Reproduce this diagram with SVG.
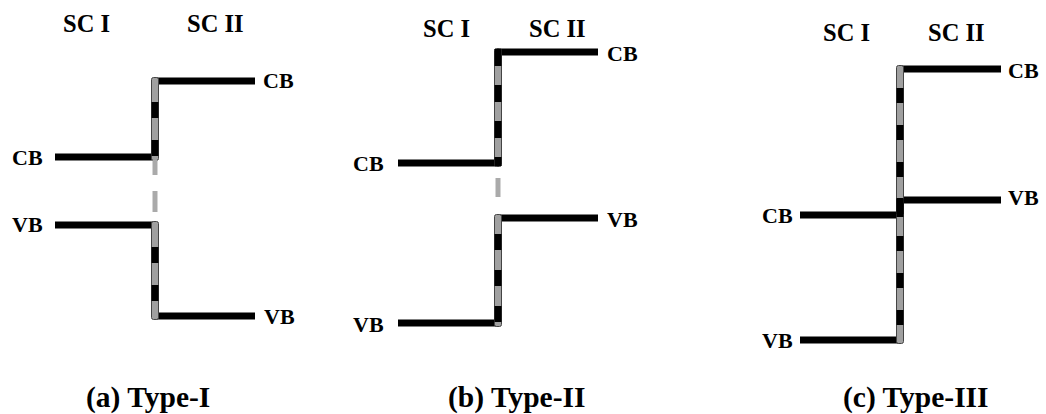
<svg xmlns="http://www.w3.org/2000/svg" width="1046" height="414" viewBox="0 0 1046 414">
<style>
text{font-family:"Liberation Serif","Times New Roman",serif;font-weight:bold;fill:#000}
.hd{font-size:24.5px}
.lb{font-size:22px}
.cap{font-size:29.5px}
.band{stroke:#000;stroke-width:7;fill:none;stroke-linecap:butt}
.vg{fill:#a0a0a0;stroke:#444;stroke-width:1}
.vd{stroke:#000;stroke-width:7;fill:none}
.gap{stroke:#aaa;stroke-width:5;fill:none}
</style>
<rect width="1046" height="414" fill="#fff"/>
<g id="panel-a">
<text class="hd" x="63" y="32">SC I</text>
<text class="hd" x="187" y="32">SC II</text>
<text class="lb" x="263" y="88">CB</text>
<text class="lb" x="12" y="165">CB</text>
<text class="lb" x="12" y="232">VB</text>
<text class="lb" x="264" y="324">VB</text>
<text class="cap" x="86" y="407">(a) Type-I</text>
</g>
<g id="panel-b">
<text class="hd" x="423" y="37">SC I</text>
<text class="hd" x="529" y="37">SC II</text>
<text class="lb" x="607" y="61">CB</text>
<text class="lb" x="353" y="171">CB</text>
<text class="lb" x="607" y="227">VB</text>
<text class="lb" x="353" y="332">VB</text>
<text class="cap" x="448" y="407">(b) Type-II</text>
</g>
<g id="panel-c">
<text class="hd" x="823" y="41">SC I</text>
<text class="hd" x="928" y="41">SC II</text>
<text class="lb" x="1008" y="78">CB</text>
<text class="lb" x="1008" y="205">VB</text>
<text class="lb" x="762" y="223">CB</text>
<text class="lb" x="762" y="348">VB</text>
<text class="cap" x="843" y="407">(c) Type-III</text>
</g>
<g id="connectors">
<!-- panel a -->
<path class="band" d="M155,81 H255"/>
<path class="band" d="M55,157 H155"/>
<path class="band" d="M55,225 H155"/>
<path class="band" d="M155,316 H255"/>
<rect class="vg" x="151.5" y="77.5" width="7" height="83" rx="2"/>
<line class="vd" x1="155" y1="80" x2="155" y2="160" stroke-dasharray="16 22" stroke-dashoffset="16"/>
<rect class="vg" x="151.5" y="221.5" width="7" height="98" rx="2"/>
<line class="vd" x1="155" y1="225" x2="155" y2="319" stroke-dasharray="16 22" stroke-dashoffset="16"/>
<line class="gap" x1="155" y1="160" x2="155" y2="175"/>
<line class="gap" x1="155" y1="191" x2="155" y2="212"/>
<!-- panel b -->
<path class="band" d="M498,52 H598"/>
<path class="band" d="M398,163 H498"/>
<path class="band" d="M498,218 H598"/>
<path class="band" d="M398,323 H498"/>
<rect class="vg" x="494.5" y="48.5" width="7" height="118" rx="2"/>
<line class="vd" x1="498" y1="49" x2="498" y2="166" stroke-dasharray="17 19" stroke-dashoffset="0"/>
<rect class="vg" x="494.5" y="214.5" width="7" height="112" rx="2"/>
<line class="vd" x1="498" y1="214" x2="498" y2="326" stroke-dasharray="16 20" stroke-dashoffset="16"/>
<line class="gap" x1="498" y1="178" x2="498" y2="197"/>
<!-- panel c -->
<path class="band" d="M900,69 H1001"/>
<path class="band" d="M900,200 H1001"/>
<path class="band" d="M800,215 H900"/>
<path class="band" d="M800,340 H900"/>
<rect class="vg" x="896.5" y="65.5" width="7" height="278" rx="2"/>
<line class="vd" x1="900" y1="66" x2="900" y2="343" stroke-dasharray="15 22" stroke-dashoffset="15"/>
<line class="vd" x1="900" y1="198" x2="900" y2="217"/>
</g>
</svg>
